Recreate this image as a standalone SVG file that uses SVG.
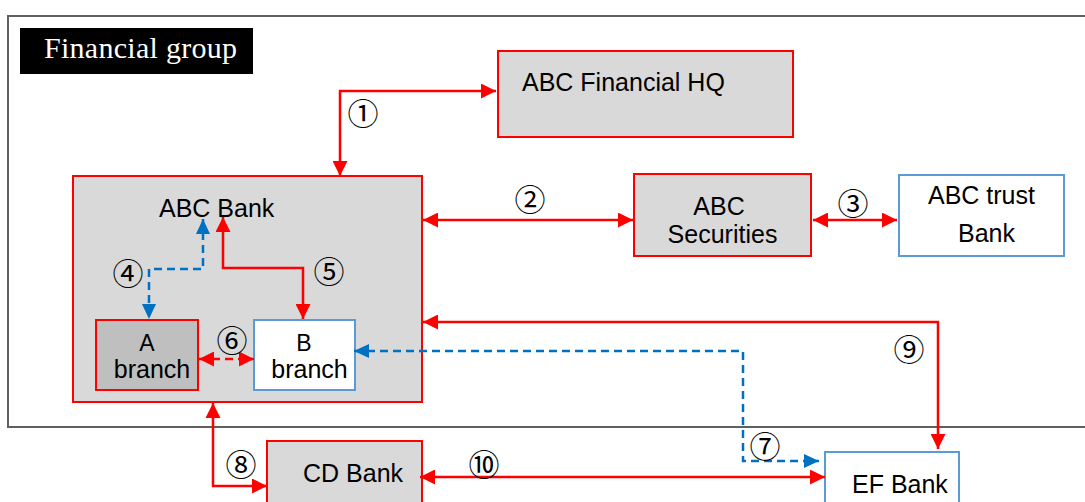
<svg xmlns="http://www.w3.org/2000/svg" width="1085" height="502" viewBox="0 0 1085 502">
<style>
.red{fill:#d9d9d9;stroke:#ff0000;stroke-width:2}
.blue{fill:#ffffff;stroke:#5b9bd5;stroke-width:2}
.t{font-family:"Liberation Sans",Arial,sans-serif;font-size:25px;fill:#000}
.s{font-size:23px}
.c{text-anchor:middle}
.n{font-family:"Noto Sans CJK JP","DejaVu Sans",sans-serif;font-size:31px;fill:#000;text-anchor:middle;dominant-baseline:central}
.lr{fill:none;stroke:#ff0000;stroke-width:2.5}
.lb{fill:none;stroke:#0070c0;stroke-width:2.5;stroke-dasharray:8 5}
.lrd{fill:none;stroke:#ff0000;stroke-width:2.5;stroke-dasharray:8 5}
</style>
<defs>
<marker id="ar" markerUnits="userSpaceOnUse" markerWidth="15" markerHeight="15" viewBox="0 0 15 15" refX="15" refY="7.5" orient="auto-start-reverse"><path d="M0,0 L15,7.5 L0,15 z" fill="#ff0000"/></marker>
<marker id="ab" markerUnits="userSpaceOnUse" markerWidth="15" markerHeight="15" viewBox="0 0 15 15" refX="15" refY="7.5" orient="auto-start-reverse"><path d="M0,0.5 L15,7.5 L0,14.5 z" fill="#0070c0"/></marker>
</defs>
<rect x="0" y="0" width="1085" height="502" fill="#ffffff"/>
<g id="frame">
<rect x="8" y="16" width="1100" height="411" fill="none" stroke="#606060" stroke-width="2"/>
<rect x="20" y="28" width="233" height="46" fill="#000"/>
<text x="44" y="58" font-family="Liberation Serif,'Times New Roman',serif" font-size="30" fill="#fff" textLength="193" lengthAdjust="spacing">Financial group</text>
</g>
<g id="hq">
<rect class="red" x="498" y="51" width="295" height="86"/>
<text class="t" x="522" y="91">ABC Financial HQ</text>
</g>
<g id="abcbank">
<rect class="red" x="73" y="176" width="349" height="226"/>
<text class="t" x="159" y="217" font-size="24">ABC Bank</text>
</g>
<g id="abranch">
<rect x="96" y="320" width="102" height="70" fill="#bfbfbf" stroke="#ff0000" stroke-width="2"/>
<text class="t s c" x="147" y="351">A</text>
<text class="t c" x="152" y="378" font-size="24">branch</text>
</g>
<g id="bbranch">
<rect class="blue" x="254" y="320" width="101" height="70"/>
<text class="t s c" x="304" y="351">B</text>
<text class="t c" x="309.5" y="378" font-size="24">branch</text>
</g>
<g id="securities">
<rect class="red" x="634" y="174" width="177" height="82"/>
<text class="t c"><tspan x="719" y="215">ABC</tspan><tspan x="722.5" y="243">Securities</tspan></text>
</g>
<g id="trust">
<rect class="blue" x="899" y="175" width="165" height="81"/>
<text class="t c"><tspan x="981.5" y="204">ABC trust</tspan><tspan x="986.5" y="242">Bank</tspan></text>
</g>
<g id="cdbank">
<rect class="red" x="267" y="441" width="155" height="80"/>
<text class="t" x="303" y="482" font-size="24.5">CD Bank</text>
</g>
<g id="efbank">
<rect class="blue" x="825" y="452" width="134" height="70"/>
<text class="t" x="852" y="492.5" font-size="23.5">EF Bank</text>
</g>
<g id="connectors">
<path class="lr" d="M340,176 V91 H496" marker-start="url(#ar)" marker-end="url(#ar)"/>
<path class="lr" d="M423,220 H633" marker-start="url(#ar)" marker-end="url(#ar)"/>
<path class="lr" d="M813,220 H897" marker-start="url(#ar)" marker-end="url(#ar)"/>
<path class="lb" d="M203,219 V269 H149 V319" marker-start="url(#ab)" marker-end="url(#ab)"/>
<path class="lr" d="M223,217 V268 H303 V319" marker-start="url(#ar)" marker-end="url(#ar)"/>
<path class="lrd" d="M199,359 H254" marker-start="url(#ar)" marker-end="url(#ar)"/>
<path class="lb" d="M354,351 H743 V461 H819" marker-start="url(#ab)" marker-end="url(#ab)"/>
<path class="lr" d="M213,403 V486 H267" marker-start="url(#ar)" marker-end="url(#ar)"/>
<path class="lr" d="M423,322 H938 V449" marker-start="url(#ar)" marker-end="url(#ar)"/>
<path class="lr" d="M420,477 H825" marker-start="url(#ar)" marker-end="url(#ar)"/>
</g>
<g id="labels">
<text class="n" x="363" y="111">①</text>
<text class="n" x="530" y="197">②</text>
<text class="n" x="853" y="201">③</text>
<text class="n" x="128" y="271">④</text>
<text class="n" x="329" y="269">⑤</text>
<text class="n" x="232" y="338" font-size="33">⑥</text>
<text class="n" x="765" y="444">⑦</text>
<text class="n" x="241" y="462">⑧</text>
<text class="n" x="909" y="347">⑨</text>
<text class="n" x="484" y="462">⑩</text>
</g>
</svg>
